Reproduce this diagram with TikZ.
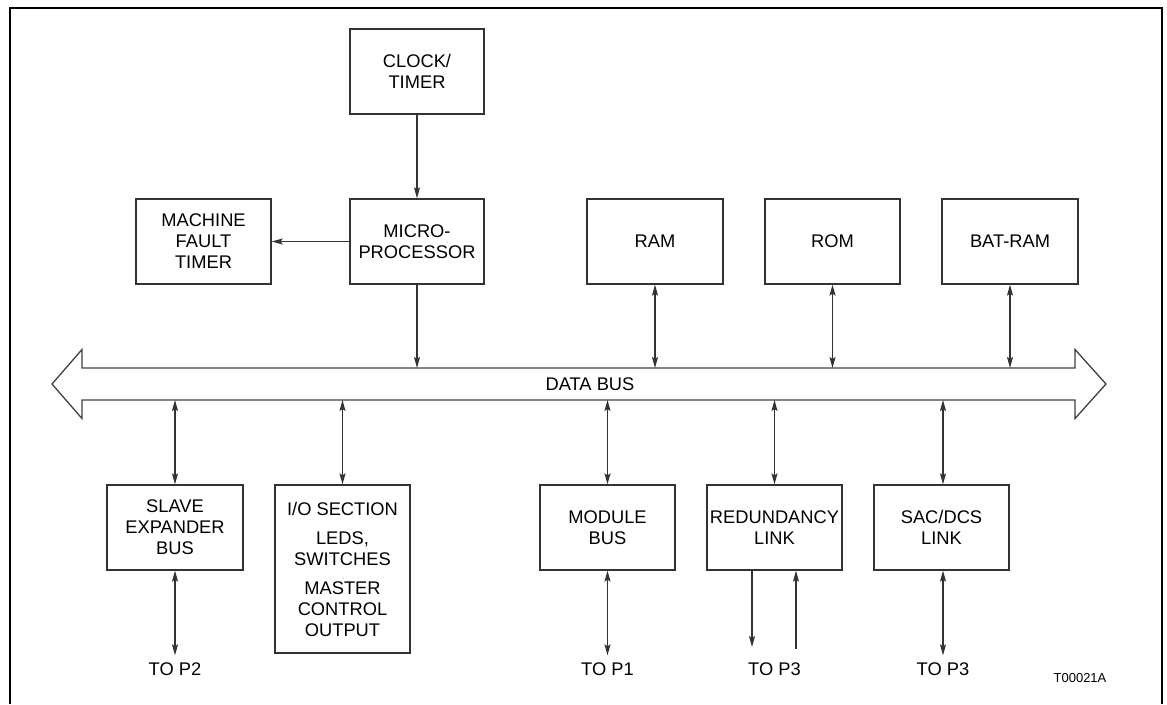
\documentclass[tikz,border=0pt]{standalone}
\usepackage{fontspec}
\setmainfont{Liberation Sans}
\usetikzlibrary{arrows.meta}
\begin{document}
\begin{tikzpicture}[x=1pt,y=-1pt,
  txt/.style={font=\fontsize{18.3}{21}\selectfont},
  box/.style={txt,draw=black!80,line width=1.3pt,rectangle,inner sep=0pt,align=center,minimum height=85pt},
  lbl/.style={txt,inner sep=3pt},
  tip/.tip={Stealth[length=11pt,width=6pt,inset=2pt]},
  conn/.style={draw=black!80,line width=1.3pt,-tip},
  bconn/.style={draw=black!80,line width=1.3pt,tip-tip},
  frame/.style={draw=black,line width=2pt},
  busline/.style={draw=black!75,line width=1.3pt,line join=miter}
]
\useasboundingbox (0,0) rectangle (1167,704);
\draw[frame] (10,704) -- (10,8) -- (1162,8) -- (1162,704);

% top row
\node[box,minimum width=134pt] (clock) at (417,71.5) {CLOCK/\\TIMER};
\node[box,minimum width=134pt] (micro) at (417,241.5) {MICRO-\\PROCESSOR};
\node[box,minimum width=135pt] (mft) at (203.5,241.5) {MACHINE\\FAULT\\TIMER};
\node[box,minimum width=136pt] (ram) at (655,241.5) {RAM};
\node[box,minimum width=135pt] (rom) at (832.5,241.5) {ROM};
\node[box,minimum width=136pt] (bat) at (1010,241.5) {BAT-RAM};

% data bus
\draw[busline] (52,384) -- (82,349.5) -- (82,368) -- (1075,368) -- (1075,349.5) -- (1106,384)
  -- (1075,418.5) -- (1075,400) -- (82,400) -- (82,418.5) -- cycle;
\node[txt,inner sep=0pt] (databus) at (590,384) {DATA BUS};
\coordinate (bt) at (0,368);
\coordinate (bb) at (0,400);

% bottom row
\node[box,minimum width=136pt] (slave) at (175,527.5) {SLAVE\\EXPANDER\\BUS};
\node[box,minimum width=135pt,minimum height=168pt] (io) at (342.5,569)
  {I/O SECTION\\[8pt]LEDS,\\SWITCHES\\[8pt]MASTER\\CONTROL\\OUTPUT};
\node[box,minimum width=135pt] (module) at (607.5,527.5) {MODULE\\BUS};
\node[box,minimum width=135pt] (redund) at (774.5,527.5) {REDUNDANCY\\LINK};
\node[box,minimum width=135pt] (sac) at (941.5,527.5) {SAC/DCS\\LINK};

% labels
\node[lbl] (top2) at (175,669) {TO P2};
\node[lbl] (top1) at (607.5,669) {TO P1};
\node[lbl] (top3a) at (774.5,669) {TO P3};
\node[lbl] (top3b) at (943,669) {TO P3};
\node[font=\fontsize{13}{15}\selectfont,inner sep=0pt] (code) at (1080,678) {T00021A};

% connectors top
\draw[conn] (clock) -- (micro);
\draw[conn] (micro) -- (mft);
\draw[conn] (micro.south) -- (micro.south |- bt);
\draw[bconn] (ram.south) -- (ram.south |- bt);
\draw[bconn] (rom.south) -- (rom.south |- bt);
\draw[bconn] (bat.south) -- (bat.south |- bt);

% connectors bottom
\draw[bconn] (slave.north |- bb) -- (slave.north);
\draw[bconn] (io.north |- bb) -- (io.north);
\draw[bconn] (module.north |- bb) -- (module.north);
\draw[bconn] (redund.north |- bb) -- (redund.north);
\coordinate (sacx) at (943,0);
\draw[bconn] (sacx |- bb) -- (sacx |- sac.north);

\draw[bconn,shorten >=4pt] (slave.south) -- (top2.north);
\draw[bconn,shorten >=4pt] (module.south) -- (top1.north);
\draw[bconn,shorten >=4pt] (sacx |- sac.south) -- (top3b.north);
\coordinate (rd) at (752,647);
\coordinate (ru) at (796,649);
\draw[conn] (redund.south -| rd) -- (rd);
\draw[conn] (ru) -- (redund.south -| ru);
\end{tikzpicture}
\end{document}
